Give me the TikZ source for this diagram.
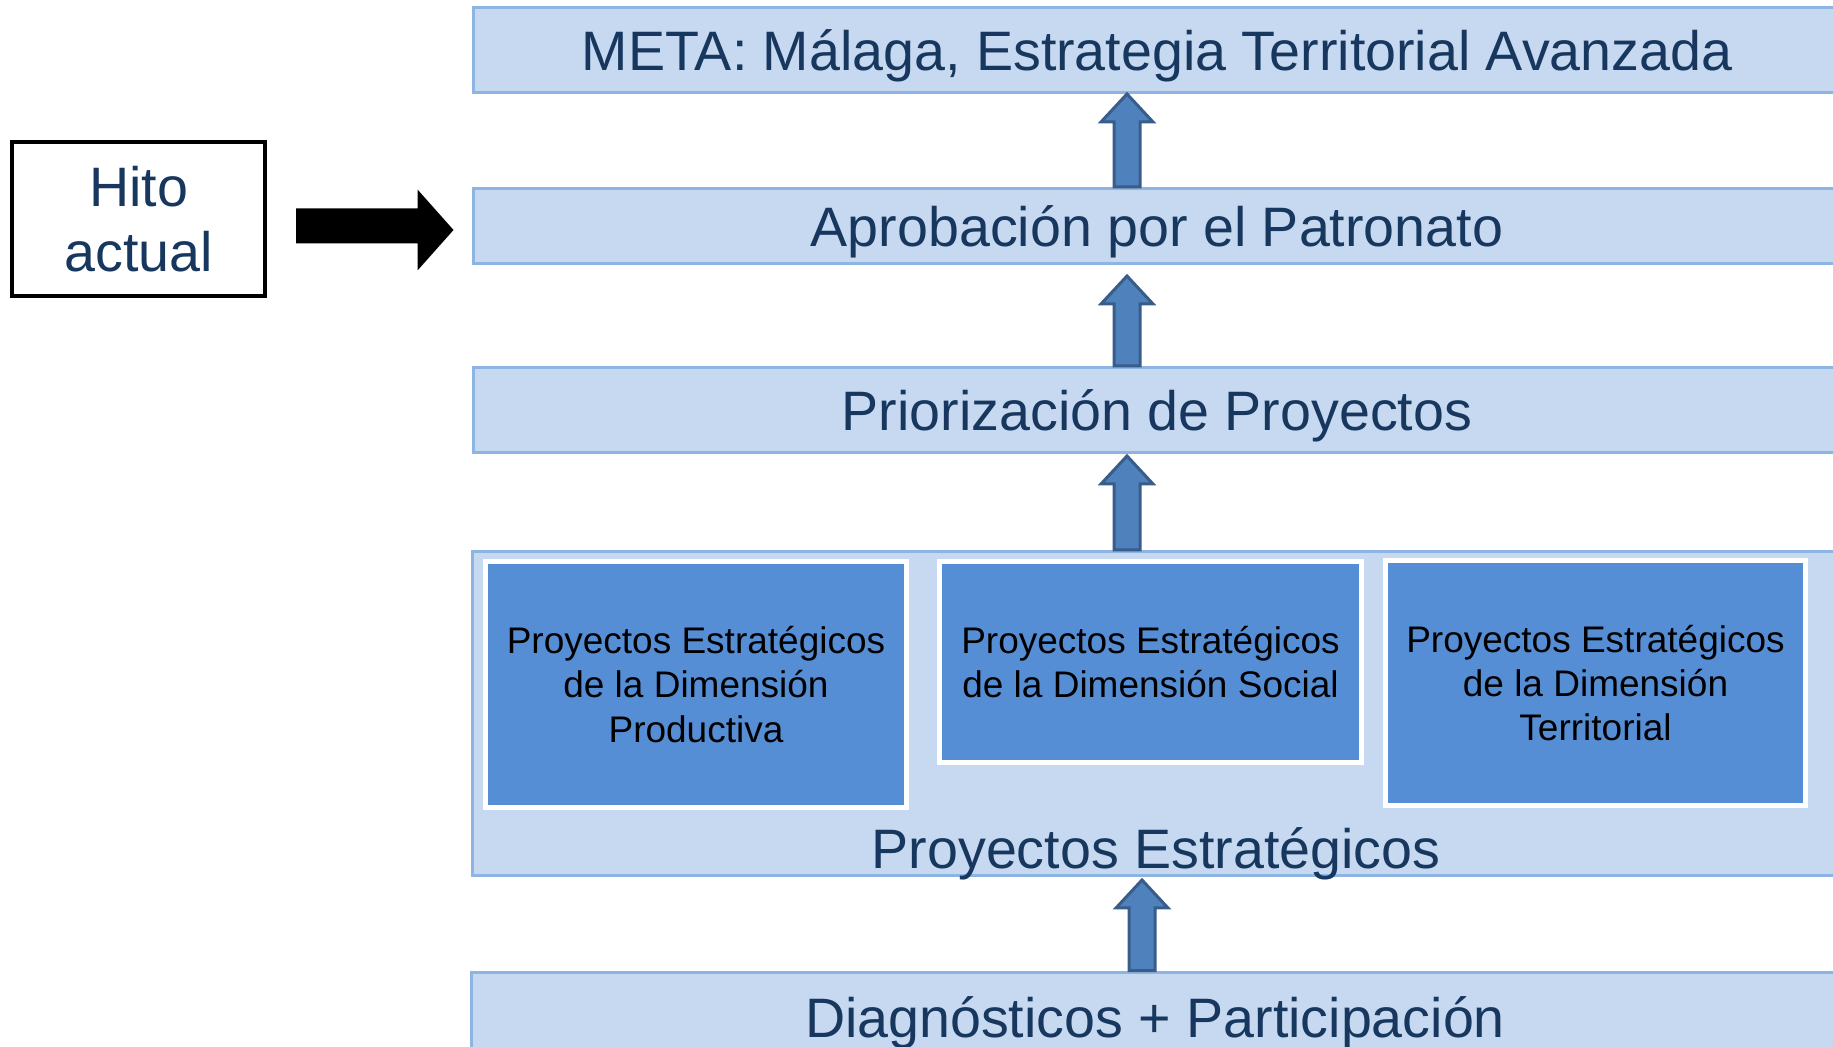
\documentclass[tikz,border=0pt]{standalone}
\usepackage{fontspec}
\setmainfont{Liberation Sans}
\usepackage{tikz}
\usetikzlibrary{calc}

\definecolor{barfill}{RGB}{198,217,241}
\definecolor{barline}{RGB}{142,180,227}
\definecolor{subfill}{RGB}{85,142,213}
\definecolor{arrowfill}{RGB}{79,129,189}
\definecolor{arrowline}{RGB}{56,93,138}
\definecolor{textblue}{RGB}{23,55,94}

\begin{document}
\begin{tikzpicture}[x=0.5pt,y=-0.5pt,
	bar node/.style={rectangle, draw=barline, fill=barfill, line width=1.5pt, minimum width=684pt,
		inner sep=0pt, text depth=0pt, text=textblue, font=\fontsize{27.8}{32.5}\selectfont},
	sub node/.style={rectangle, draw=white, fill=subfill, line width=2.5pt, inner sep=0pt,
		align=center, font=\fontsize{18.5}{22.2}\selectfont},
	up arrow/.style={draw=arrowline, fill=arrowfill, line width=1.5pt}]

	\useasboundingbox (0,0) rectangle (1833,1047);
	\clip (0,0) rectangle (1833,1047);

	% macro: block arrow at the x of #1, from box #2 up to box #3, #4 = gap below #3
	\def\uparr#1#2#3#4{\draw[up arrow] let \p1=(#1 |- #2.north), \p2=(#1 |- #3.south) in
		(\x1-6.5pt,\y1) -- (\x1-6.5pt,\y2-14pt-#4) -- (\x1-13pt,\y2-14pt-#4) -- (\x1,\y2-#4)
		-- (\x1+13pt,\y2-14pt-#4) -- (\x1+6.5pt,\y2-14pt-#4) -- (\x1+6.5pt,\y1) -- cycle;}

	\node[bar node, minimum height=42.5pt] (meta) at (1157,50) {META: Málaga, Estrategia Territorial Avanzada};
	\node[bar node, minimum height=37.5pt] (aprob) at (1157,226) {Aprobación por el Patronato};
	\node[bar node, minimum height=42.5pt] (prio) at (1157,410) {Priorización de Proyectos};
	\node[bar node, minimum height=162pt] (proj) at (1156,713.5) {};
	\node[bar node, minimum height=45pt] (diag) at (1155,1017) {Diagnósticos + Participación};

	\node[text=textblue, font=\fontsize{27.8}{32.5}\selectfont, inner sep=0pt, text depth=0pt] (projlabel) at (1156,848) {Proyectos Estratégicos};

	\node[sub node, minimum width=210.5pt, minimum height=123pt] (prod) at (696,684.5)
		{Proyectos Estratégicos\\de la Dimensión\\Productiva};
	\node[sub node, minimum width=211pt, minimum height=100.5pt] (social) at (1150.5,662)
		{Proyectos Estratégicos\\de la Dimensión Social};
	\node[sub node, minimum width=210pt, minimum height=122.5pt] (terr) at (1595.5,683)
		{Proyectos Estratégicos\\de la Dimensión\\Territorial};

	\node[rectangle, draw=black, line width=2pt, minimum width=126.5pt, minimum height=77pt,
		align=center, text=textblue, font=\fontsize{27.8}{32.5}\selectfont] (hito) at (138.5,219) {Hito\\actual};

	\coordinate (c1) at (1127,0);
	\coordinate (c2) at (1142,0);

	\uparr{c1}{aprob}{meta}{0pt}
	\uparr{c1}{prio}{aprob}{5.5pt}
	\uparr{c1}{proj}{prio}{1pt}
	\uparr{c2}{diag}{proj}{1.5pt}

	% pointer to the current milestone
	\fill[black] let \p1=(hito.east), \p2=(aprob.west) in
		(\x1+14.5pt,\y2+8.75pt) -- (\x2-27pt,\y2+8.75pt) -- (\x2-27pt,\y2+18.25pt) -- (\x2-9pt,\y2-2pt)
		-- (\x2-27pt,\y2-22.25pt) -- (\x2-27pt,\y2-8.75pt) -- (\x1+14.5pt,\y2-8.75pt) -- cycle;
\end{tikzpicture}
\end{document}
